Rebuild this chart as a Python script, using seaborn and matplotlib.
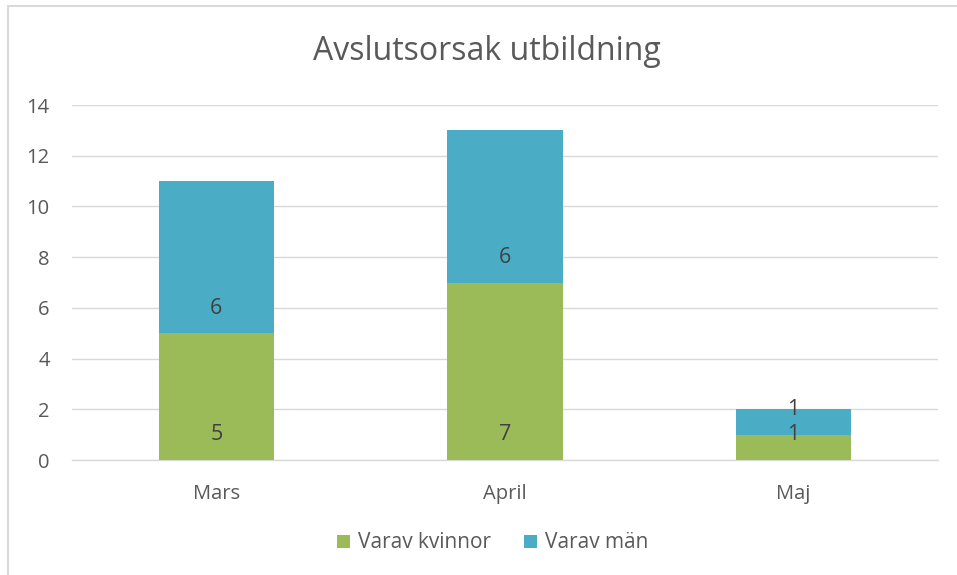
import matplotlib
matplotlib.use("Agg")
import matplotlib.pyplot as plt
import seaborn as sns
import pandas as pd
from matplotlib.patches import Patch
from matplotlib.lines import Line2D

months = ["Mars", "April", "Maj"]
kvinnor = [5, 7, 1]
man = [6, 6, 1]
series_names = ["Varav kvinnor", "Varav män"]
colors = ["#9BBB59", "#4BACC6"]
title = "Avslutsorsak utbildning"

sns.set_theme(style="white")
plt.rcParams['font.family'] = ['Open Sans', 'DejaVu Sans']
txt = "#595959"

fig = plt.figure(figsize=(9.57, 5.75), dpi=100)
ax = fig.add_axes([72/957, 1-460/575, (938-72)/957, (460-105)/575])

df = pd.DataFrame({"month": months, "kvinnor": kvinnor, "man": man})
df["total"] = df["kvinnor"] + df["man"]

sns.barplot(data=df, x="month", y="total", color=colors[1], width=0.4,
            saturation=1, ax=ax, zorder=2, linewidth=0)
sns.barplot(data=df, x="month", y="kvinnor", color=colors[0], width=0.4,
            saturation=1, ax=ax, zorder=3, linewidth=0)

# labels at inside base
for i, (k, m) in enumerate(zip(kvinnor, man)):
    ax.annotate(str(k), (i, 0), xytext=(0, 25), textcoords="offset pixels",
                ha="center", va="center", fontsize=15.5, color="#404040", zorder=5)
    ax.annotate(str(m), (i, k), xytext=(0, 25), textcoords="offset pixels",
                ha="center", va="center", fontsize=15.5, color="#404040", zorder=5)

ax.set_ylim(0, 14)
ax.set_xlim(-0.5, 2.5)
ax.set_yticks(range(0, 15, 2))
ax.yaxis.grid(True, color="#D9D9D9", linewidth=1)
ax.set_axisbelow(True)
for s in ["top", "right", "left"]:
    ax.spines[s].set_visible(False)
ax.spines["bottom"].set_color("#D9D9D9")
ax.spines["bottom"].set_linewidth(1)
ax.set_xlabel("")
ax.set_ylabel("")
ax.tick_params(axis="both", length=0, labelsize=14.5, colors=txt)
ax.tick_params(axis="x", pad=17)
ax.tick_params(axis="y", pad=16)

fig.text(487/957, 1-51/575, title, ha="center", va="center", fontsize=23, color=txt)

handles = [Patch(facecolor=c, edgecolor="none") for c in colors]
fig.legend(handles, series_names, loc="center", bbox_to_anchor=(493/957, 1-543/575),
           ncol=2, frameon=False, fontsize=15, labelcolor=txt, handlelength=0.6,
           handleheight=0.6, handletextpad=0.4, columnspacing=1.6)

# chart border
fig.add_artist(Line2D([8/957, 1], [1-6/575, 1-6/575], color="#D9D9D9", lw=1.5,
                      transform=fig.transFigure))
fig.add_artist(Line2D([8/957, 8/957], [0, 1-6/575], color="#D9D9D9", lw=1.5,
                      transform=fig.transFigure))

fig.savefig("out.png", dpi=100)
